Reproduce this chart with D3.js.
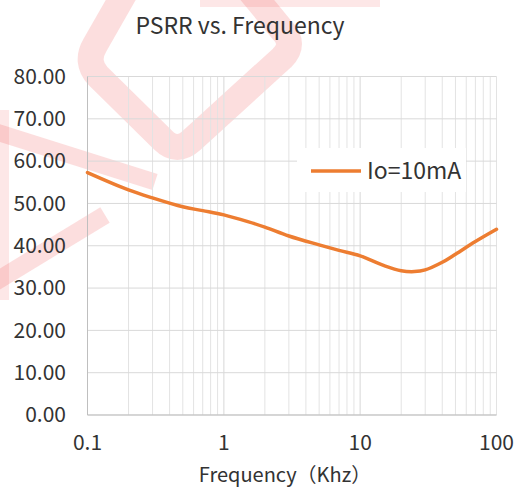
<!DOCTYPE html>
<html>
<head>
<meta charset="utf-8">
<script src="https://cdn.jsdelivr.net/npm/d3@7"></script>
<style>
  body { margin: 0; background: #fff; }
  text { font-family: "Noto Sans CJK SC", "Noto Sans", sans-serif; fill: #333; }
</style>
</head>
<body>
<div class="chart"></div>
<script>
const width = 520;
const height = 488;

// data
const freq = [0.1, 0.2, 0.3, 0.5, 0.7, 1, 1.5, 2, 3, 5, 7, 10, 15, 20, 25, 30, 40, 50, 70, 100];
const psrr = [57.3, 53.2, 51.3, 49.2, 48.3, 47.3, 45.7, 44.4, 42.3, 40.2, 38.9, 37.6, 35.3, 34.1, 33.9, 34.3, 36.1, 38.0, 41.0, 43.9];
const yTicks = [0, 10, 20, 30, 40, 50, 60, 70, 80];
const xTicks = [0.1, 1, 10, 100];
const seriesName = "Io=10mA";

const plotL = 87.5, plotR = 496.5, plotT = 76.5, plotB = 415;

const svg = d3.select(".chart").append("svg").attr("width", width).attr("height", height);

// faint red watermark behind the chart
const wm = svg.append("g").attr("fill", "none").attr("stroke", "rgb(238,60,60)").attr("stroke-opacity", 0.17);
wm.append("path")
    .attr("d", "M135,-25 L95,45 Q85,62 98,76 L163,140 Q177,154 192,140 L282,58 Q296,44 282,30 L245,-15")
    .attr("stroke-width", 26).attr("stroke-linejoin", "round");
wm.append("path").attr("d", "M-10,130 L155,182").attr("stroke-width", 17);
wm.append("path").attr("d", "M-10,285 L105,215").attr("stroke-width", 18);
wm.append("path").attr("d", "M4,110 L4,300").attr("stroke-width", 10).attr("stroke-opacity", 0.12);
wm.append("path").attr("d", "M200,2 L380,2").attr("stroke-width", 10).attr("stroke-opacity", 0.12);

const x = d3.scaleLog().domain([0.1, 100]).range([plotL, plotR]);
const y = d3.scaleLinear().domain([0, 80]).range([plotB, plotT]);

const g = svg.append("g");

// minor + major vertical gridlines
let vGrid = [];
for (let d = 0.1; d < 100; d *= 10) {
    for (let k = 1; k <= 10; k++) vGrid.push(+(d * k).toPrecision(3));
}
g.selectAll(".vgrid").data(vGrid).enter().append("line")
    .attr("x1", d => x(d)).attr("x2", d => x(d))
    .attr("y1", plotT).attr("y2", plotB)
    .attr("stroke", "#e3e3e3").attr("stroke-width", 1);

g.selectAll(".hgrid").data(yTicks).enter().append("line")
    .attr("x1", plotL).attr("x2", plotR)
    .attr("y1", d => y(d)).attr("y2", d => y(d))
    .attr("stroke", "#d9d9d9").attr("stroke-width", 1);

// axis lines
g.append("line").attr("x1", plotL).attr("x2", plotL).attr("y1", plotT).attr("y2", plotB).attr("stroke", "#bfbfbf");
g.append("line").attr("x1", plotL).attr("x2", plotR).attr("y1", plotB).attr("y2", plotB).attr("stroke", "#bfbfbf");

// tick labels
g.selectAll(".ylab").data(yTicks).enter().append("text")
    .attr("x", 66).attr("y", d => y(d)).attr("dy", "0.35em")
    .attr("text-anchor", "end").attr("font-size", 21)
    .text(d => d3.format(".2f")(d));

g.selectAll(".xlab").data(xTicks).enter().append("text")
    .attr("x", d => x(d)).attr("y", 443).attr("dy", "0.35em")
    .attr("text-anchor", "middle").attr("font-size", 21)
    .text(d => d);

// titles
svg.append("text").attr("x", 240).attr("y", 26).attr("dy", "0.35em")
    .attr("text-anchor", "middle").attr("font-size", 23).text("PSRR vs. Frequency");
svg.append("text").attr("x", 285).attr("y", 475).attr("dy", "0.35em")
    .attr("text-anchor", "middle").attr("font-size", 20).text("Frequency（Khz）");

// legend box hides gridlines
const leg = svg.append("g");
leg.append("rect").attr("x", 297).attr("y", 148).attr("width", 169).attr("height", 44).attr("fill", "#fff");
leg.append("line").attr("x1", 311).attr("x2", 361).attr("y1", 171).attr("y2", 171)
    .attr("stroke", "#ED7D31").attr("stroke-width", 3.5);
leg.append("text").attr("x", 367).attr("y", 171).attr("dy", "0.35em")
    .attr("font-size", 23).text(seriesName);

// the curve
const points = freq.map((f, i) => [f, psrr[i]]);
const line = d3.line().x(d => x(d[0])).y(d => y(d[1])).curve(d3.curveCatmullRom.alpha(0.5));
svg.append("path").datum(points)
    .attr("d", line)
    .attr("fill", "none").attr("stroke", "#ED7D31").attr("stroke-width", 3.5)
    .attr("stroke-linecap", "round");
</script>
</body>
</html>
